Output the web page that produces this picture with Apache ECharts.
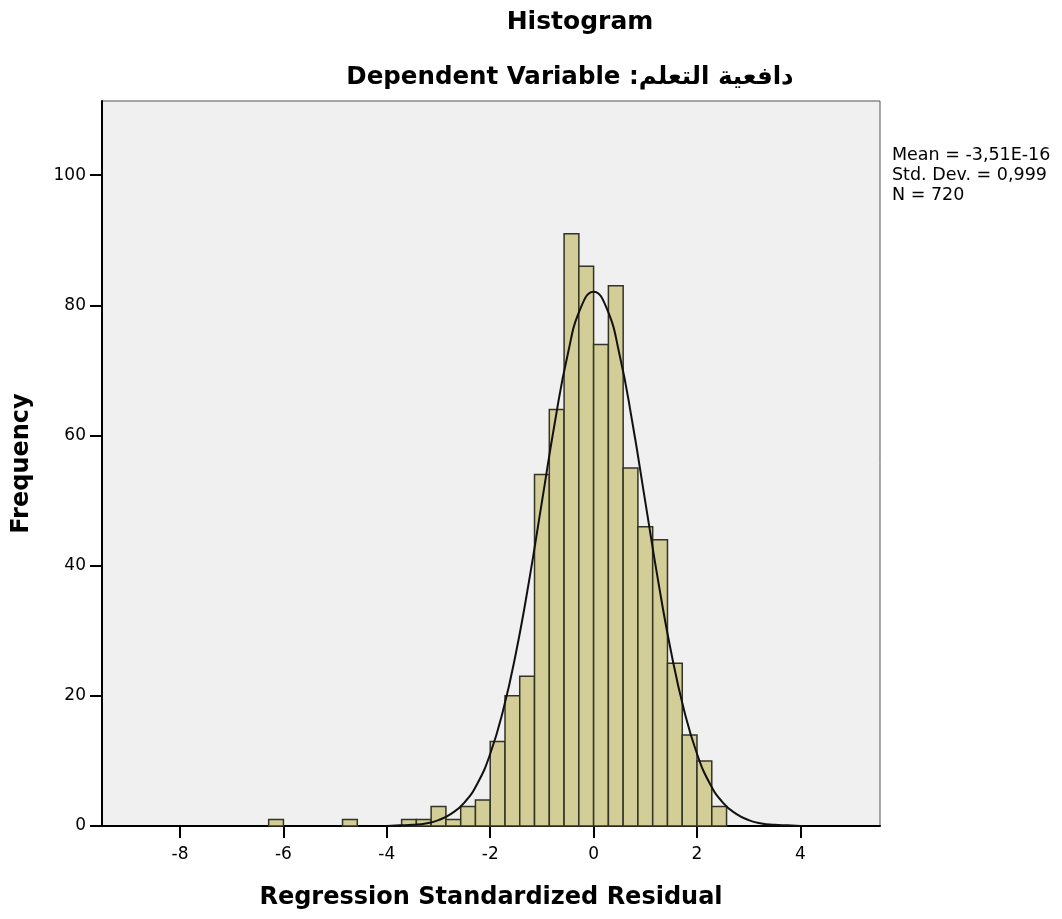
<!DOCTYPE html>
<html>
<head>
<meta charset="utf-8">
<script src="https://cdn.jsdelivr.net/npm/echarts@6/dist/echarts.min.js"></script>
<style>
  html, body { margin: 0; padding: 0; background: #fff; }
  #main { width: 1062px; height: 919px; }
</style>
</head>
<body>
<div id="main"></div>
<script>
// lower edge of each histogram bin (bin width 2/7)
var binLow = [-6.286, -4.857, -3.714, -3.429, -3.143, -2.857, -2.571, -2.286, -2.000, -1.714,
	-1.429, -1.143, -0.857, -0.571, -0.286, 0.000, 0.286, 0.571, 0.857, 1.143,
	1.429, 1.714, 2.000, 2.286];
var binCount = [1, 1, 1, 1, 3, 1, 3, 4, 13, 20,
	23, 54, 64, 91, 86, 74, 83, 55, 46, 44,
	25, 14, 10, 3];
var binWidth = 2 / 7;

// normal curve
var curveX = [-4, -3.75, -3.5, -3.25, -3, -2.75, -2.5, -2.25, -2, -1.75, -1.5, -1.25, -1, -0.75, -0.5, -0.25,
	0, 0.25, 0.5, 0.75, 1, 1.25, 1.5, 1.75, 2, 2.25, 2.5, 2.75, 3, 3.25, 3.5, 3.75, 4];
var curveY = [0.0, 0.1, 0.2, 0.4, 0.9, 1.9, 3.6, 6.5, 11.1, 17.8, 26.7, 37.6, 49.8, 62.0, 72.5, 79.6,
	82.1, 79.6, 72.5, 62.0, 49.8, 37.6, 26.7, 17.8, 11.1, 6.5, 3.6, 1.9, 0.9, 0.4, 0.2, 0.1, 0.0];

var xTicks = [-8, -6, -4, -2, 0, 2, 4];
var yTicks = [0, 20, 40, 60, 80, 100];
var statLines = ['Mean = -3,51E-16', 'Std. Dev. = 0,999', 'N = 720'];

var myChart = echarts.init(document.getElementById('main'));

var bars = [];
for (var i = 0; i < binLow.length; i++) {
	bars.push([binLow[i], binLow[i] + binWidth, binCount[i]]);
}
var curve = [];
for (var i = 0; i < curveX.length; i++) {
	curve.push([curveX[i], curveY[i]]);
}

var font = 'DejaVu Sans';

var option = {
	backgroundColor: '#ffffff',
	animation: false,
	grid: {
		left: 102, top: 101, right: 182, bottom: 93,
		containLabel: false,
		outerBoundsMode: 'none',
		show: true,
		backgroundColor: '#f0f0f0',
		borderColor: '#555',
		borderWidth: 1
	},
	graphic: [
		{
			type: 'text', x: 580, y: 22,
			style: { text: 'Histogram', fontFamily: font, fontWeight: 'bold', fontSize: 25,
				fill: '#000', textAlign: 'center', textVerticalAlign: 'middle' }
		},
		{
			type: 'text', x: 570, y: 78,
			style: { text: 'Dependent Variable :دافعية التعلم', fontFamily: font, fontWeight: 'bold', fontSize: 24.5,
				fill: '#000', textAlign: 'center', textVerticalAlign: 'middle' }
		},
		{
			type: 'text', x: 892, y: 145,
			style: { text: statLines.join('\n'), fontFamily: font, fontSize: 17.5, lineHeight: 20,
				fill: '#000', textAlign: 'left', textVerticalAlign: 'top' }
		}
	],
	xAxis: {
		type: 'value',
		min: -9.51,
		max: 5.54,
		name: 'Regression Standardized Residual',
		nameLocation: 'middle',
		nameGap: 60,
		nameTextStyle: { fontFamily: font, fontWeight: 'bold', fontSize: 24, color: '#000' },
		splitLine: { show: false },
		axisLine: { onZero: false, lineStyle: { color: '#000', width: 2 } },
		axisTick: { customValues: xTicks, length: 12, lineStyle: { color: '#000', width: 2 } },
		axisLabel: { customValues: xTicks, margin: 20, fontFamily: font, fontSize: 17, color: '#000' }
	},
	yAxis: {
		type: 'value',
		min: 0,
		max: 111.4,
		name: 'Frequency',
		nameLocation: 'middle',
		nameGap: 68,
		nameRotate: 90,
		nameTextStyle: { fontFamily: font, fontWeight: 'bold', fontSize: 24, color: '#000' },
		splitLine: { show: false },
		axisLine: { show: true, onZero: false, lineStyle: { color: '#000', width: 2 } },
		axisTick: { show: true, customValues: yTicks, length: 12, lineStyle: { color: '#000', width: 2 } },
		axisLabel: { customValues: yTicks, margin: 16, fontFamily: font, fontSize: 17, color: '#000' }
	},
	series: [
		{
			type: 'custom',
			data: bars,
			encode: { x: [0, 1], y: 2 },
			renderItem: function (params, api) {
				var p0 = api.coord([api.value(0), api.value(2)]);
				var p1 = api.coord([api.value(1), 0]);
				return {
					type: 'rect',
					shape: { x: p0[0], y: p0[1], width: p1[0] - p0[0], height: p1[1] - p0[1] },
					style: { fill: '#d3ce97', stroke: '#333326', lineWidth: 1.5 }
				};
			},
			z: 2
		},
		{
			type: 'line',
			data: curve,
			smooth: true,
			showSymbol: false,
			lineStyle: { color: '#111', width: 2 },
			z: 3
		}
	]
};
myChart.setOption(option);
</script>
</body>
</html>
